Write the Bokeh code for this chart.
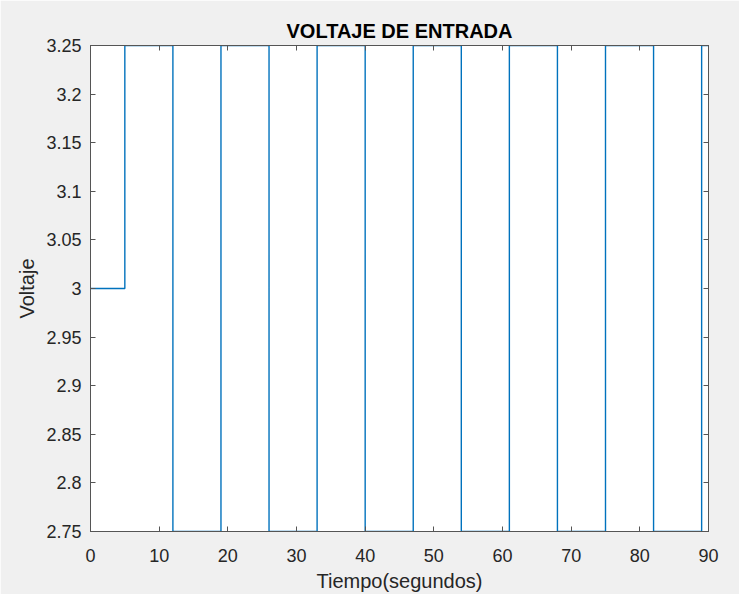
from bokeh.plotting import figure
from bokeh.models import Range1d, LinearAxis, FixedTicker
from bokeh.embed import file_html
from bokeh.resources import INLINE

# Data: step input voltage (value holds from each time until the next)
tiempo = [0, 5, 12, 19, 26, 33, 40, 47, 54, 61, 68, 75, 82, 89, 90]
voltaje = [3.0, 3.25, 2.75, 3.25, 2.75, 3.25, 2.75, 3.25, 2.75, 3.25, 2.75, 3.25, 2.75, 3.25, 3.25]

x_ticks = [0, 10, 20, 30, 40, 50, 60, 70, 80, 90]
y_ticks = [2.75, 2.8, 2.85, 2.9, 2.95, 3.0, 3.05, 3.1, 3.15, 3.2, 3.25]
y_labels = ["2.75", "2.8", "2.85", "2.9", "2.95", "3", "3.05", "3.1", "3.15", "3.2", "3.25"]

TXT = "#262626"
AX = "#555555"
FONT = "Liberation Sans"

p = figure(width=739, height=594, output_backend="svg", toolbar_location=None,
           x_range=Range1d(0, 90), y_range=Range1d(2.75, 3.25),
           x_axis_location=None, y_axis_location=None)
p.min_border_left = 90
p.min_border_right = 31
p.min_border_top = 45
p.min_border_bottom = 62
p.background_fill_color = "white"
p.border_fill_color = "#f0f0f0"
p.outline_line_color = AX
p.outline_line_width = 1
p.grid.visible = False

p.title.text = "VOLTAJE DE ENTRADA"
p.title.align = "center"
p.title.text_font = FONT
p.title.text_font_size = "20px"
p.title.text_font_style = "bold"
p.title.text_color = "black"
p.title.standoff = 8

def style(ax, labels=True):
    ax.axis_line_color = AX
    ax.major_tick_line_color = AX
    ax.major_tick_in = 5
    ax.major_tick_out = 0
    ax.minor_tick_line_color = None
    ax.major_label_text_font = FONT
    ax.major_label_text_font_size = "18px"
    ax.major_label_text_color = TXT if labels else None
    ax.axis_label_text_font = FONT
    ax.axis_label_text_font_size = "20px"
    ax.axis_label_text_font_style = "normal"
    ax.axis_label_text_color = TXT

xb = LinearAxis(ticker=FixedTicker(ticks=x_ticks), axis_label="Tiempo(segundos)")
style(xb)
xb.major_label_standoff = 17
xb.axis_label_standoff = 5
p.add_layout(xb, "below")

xt = LinearAxis(ticker=FixedTicker(ticks=x_ticks))
style(xt, labels=False)
xt.major_label_text_font_size = "0px"
xt.major_label_standoff = 0
p.add_layout(xt, "above")

yl = LinearAxis(ticker=FixedTicker(ticks=y_ticks), axis_label="Voltaje")
style(yl)
yl.major_label_overrides = {t: l for t, l in zip(y_ticks, y_labels)}
yl.major_label_standoff = 9
yl.axis_label_standoff = 5
p.add_layout(yl, "left")

yr = LinearAxis(ticker=FixedTicker(ticks=y_ticks))
style(yr, labels=False)
yr.major_label_text_font_size = "0px"
yr.major_label_standoff = 0
p.add_layout(yr, "right")

p.step(tiempo, voltaje, mode="after", line_color="#0072BD", line_width=1.4)

open("out.html", "w").write(file_html(p, INLINE))
